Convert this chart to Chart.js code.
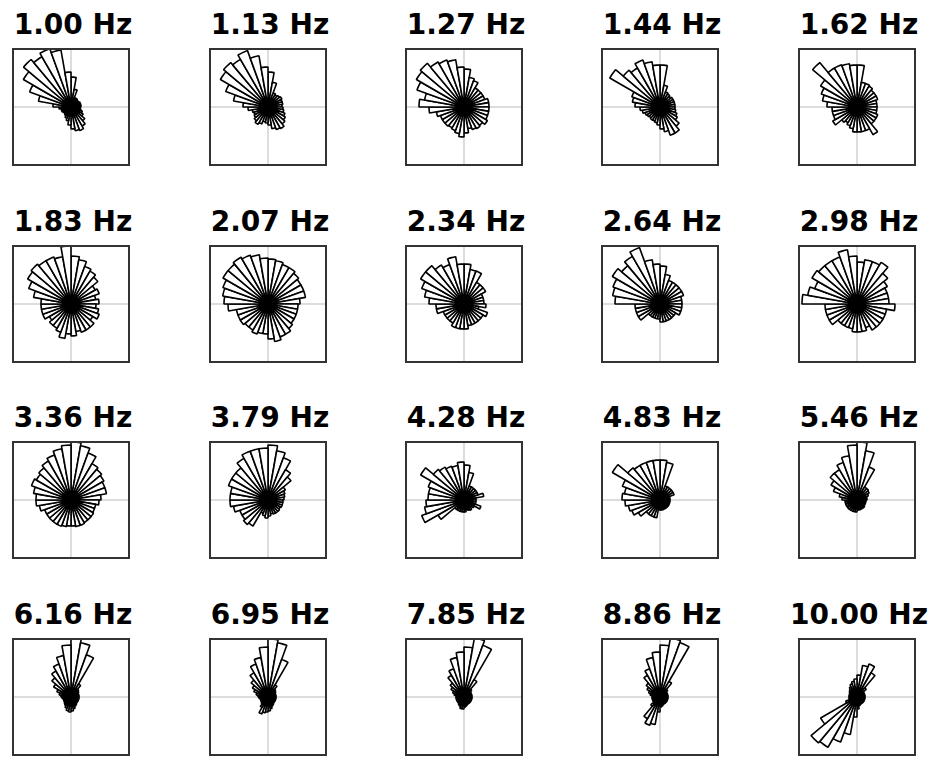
<!DOCTYPE html>
<html><head><meta charset="utf-8">
<script src="https://cdn.jsdelivr.net/npm/chart.js@4.4.1/dist/chart.umd.min.js"></script>
<style>
body{margin:0;background:#fff;width:935px;height:760px;overflow:hidden;position:relative;font-family:"DejaVu Sans",sans-serif}
.t{position:absolute;width:200px;text-align:center;font-weight:bold;font-size:28px;line-height:30px;color:#000}
.b{position:absolute;width:114px;height:114px;border:2.5px solid #333;box-sizing:content-box}
.h{position:absolute;left:0;right:0;top:56px;height:2px;background:#ddd}
.v{position:absolute;top:0;bottom:0;left:56px;width:2px;background:#ddd}
canvas{position:absolute;left:0;top:0}
</style></head><body>
<script>
const titles=["1.00 Hz","1.13 Hz","1.27 Hz","1.44 Hz","1.62 Hz","1.83 Hz","2.07 Hz","2.34 Hz","2.64 Hz","2.98 Hz","3.36 Hz","3.79 Hz","4.28 Hz","4.83 Hz","5.46 Hz","6.16 Hz","6.95 Hz","7.85 Hz","8.86 Hz","10.00 Hz"];
// bin direction labels, degrees clockwise from north (10 degree bins)
const angles=Array.from({length:36},(_,i)=>i*10);
const r01=[30,18,10,10,9,9,10,10,10,9,10,12,14,18,22,25,24,22,18,14,12,10,9,9,10,10,12,18,33,44,55,62,58,62,58,35];
const r02=[35,25,15,14,15,16,15,15,14,15,16,18,20,22,25,24,22,18,16,15,18,20,18,16,15,16,20,25,35,45,55,58,55,60,52,40];
const r03=[38,30,28,22,22,22,22,25,25,25,25,25,27,24,25,24,22,26,30,27,25,24,25,25,25,28,35,45,40,50,55,57,52,50,48,40];
const r04=[42,22,16,15,14,15,15,15,15,15,16,18,20,25,30,30,25,22,18,16,15,15,14,15,16,18,20,25,28,30,58,48,45,50,46,42];
const r05=[42,25,25,24,22,22,22,20,20,20,20,22,22,22,32,25,25,25,25,22,20,18,20,28,25,25,25,30,35,38,42,58,45,45,44,42];
const r06=[48,45,40,38,35,28,30,25,28,25,28,30,25,30,30,30,28,32,30,35,30,28,28,25,30,30,30,30,38,45,50,52,50,50,48,58];
const r07=[45,44,42,42,40,38,38,38,32,30,30,30,30,32,35,35,38,35,30,30,32,30,30,32,32,32,40,44,46,48,52,52,54,52,50,46];
const r08=[40,35,35,25,25,25,20,20,20,22,15,25,22,22,22,22,22,25,25,25,25,22,22,22,22,28,28,35,40,45,50,50,45,42,48,40];
const r09=[38,30,25,25,25,25,25,22,22,22,22,22,18,18,18,18,18,18,15,15,15,15,15,25,25,25,25,45,48,50,55,50,55,60,45,40];
const r10=[42,45,45,48,40,35,32,32,32,38,30,30,30,30,30,25,28,28,28,25,25,25,25,32,32,32,32,55,50,45,52,50,50,50,55,48];
const r11=[58,55,50,42,40,38,36,36,30,28,25,25,26,26,26,27,27,26,26,27,28,28,28,28,28,32,35,35,38,42,40,42,45,48,52,55];
const r12=[55,50,45,35,30,20,18,17,16,15,15,15,14,15,15,15,14,16,18,16,14,30,32,30,30,35,38,38,38,42,42,42,48,52,52,52];
const r13=[35,28,15,15,15,15,15,20,12,12,12,18,12,10,12,11,10,12,12,12,12,12,12,30,45,40,38,36,36,38,50,40,38,36,35,38];
const r14=[40,38,15,15,15,15,15,10,10,10,10,10,10,10,10,10,10,10,10,18,18,18,18,25,30,32,35,38,36,40,55,42,40,40,40,40];
const r15=[58,50,35,15,15,14,12,10,10,9,9,9,9,10,10,10,10,10,12,12,12,12,12,12,12,12,12,15,18,25,30,35,35,40,45,55];
const r16=[60,55,45,15,10,9,8,8,8,8,8,8,8,8,9,10,12,14,15,14,12,10,9,8,8,8,9,10,12,15,20,25,30,35,42,52];
const r17=[58,55,40,14,10,9,8,8,8,8,8,8,8,8,9,10,12,14,15,16,18,12,9,8,8,8,9,10,12,15,18,22,28,35,40,50];
const r18=[50,60,55,20,10,8,8,8,8,8,8,8,8,8,8,8,9,10,12,12,10,9,8,8,8,8,8,8,10,12,15,18,25,30,40,45];
const r19=[52,60,58,18,10,8,8,8,8,8,8,8,8,8,8,8,9,10,15,28,30,25,12,8,8,8,8,8,10,12,15,18,25,30,40,45];
const r20=[22,32,35,28,12,8,8,8,8,8,8,8,8,8,8,8,9,12,20,38,48,58,60,42,12,8,8,8,8,8,9,10,12,14,16,18];
const series=[r01,r02,r03,r04,r05,r06,r07,r08,r09,r10,r11,r12,r13,r14,r15,r16,r17,r18,r19,r20];
const colLeft=[12,209,405,601,798], rowTop=[48,245,441,638];
series.forEach((vals,k)=>{
  const c=k%5, r=Math.floor(k/5);
  const t=document.createElement('div');t.className='t';t.textContent=titles[k];
  t.style.left=(colLeft[c]+61-100)+'px';t.style.top=(rowTop[r]-38)+'px';document.body.appendChild(t);
  const b=document.createElement('div');b.className='b';b.style.left=colLeft[c]+'px';b.style.top=rowTop[r]+'px';
  b.innerHTML='<div class="h"></div><div class="v"></div>';
  const cv=document.createElement('canvas');cv.width=114;cv.height=114;cv.style.width='114px';cv.style.height='114px';
  b.appendChild(cv);document.body.appendChild(b);
  new Chart(cv,{type:'polarArea',
    data:{labels:angles.map(a=>a+'°'),datasets:[{data:vals,backgroundColor:'#fff',borderColor:'#000',borderWidth:1.6}]},
    options:{responsive:false,animation:false,startAngle:-5,layout:{padding:0},
      plugins:{legend:{display:false},tooltip:{enabled:false}},
      scales:{r:{min:0,max:57,display:true,ticks:{display:false},grid:{display:false},angleLines:{display:false},pointLabels:{display:false}}}}});
});
</script>
</body></html>
